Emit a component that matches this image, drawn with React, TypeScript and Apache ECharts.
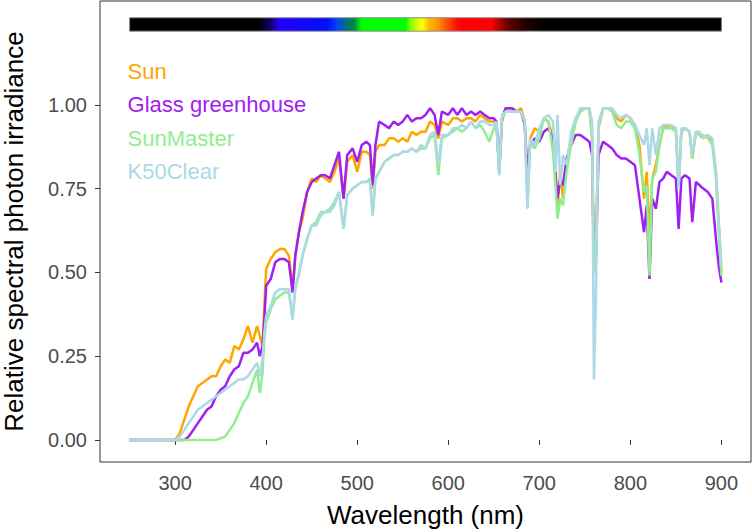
import React, { useEffect, useRef } from "react";
import * as echarts from "echarts";

const wavelengths = [
  250, 295, 300, 305, 310, 315, 320, 325, 330, 335,
  340, 345, 350, 355, 360, 365, 370, 375, 380, 385,
  390, 393, 396, 398, 400, 405, 410, 415, 420, 425,
  429, 432, 436, 440, 445, 450, 455, 460, 465, 470,
  475, 480, 485, 489, 495, 500, 505, 510, 514, 517,
  520, 524, 530, 535, 540, 545, 550, 555, 560, 565,
  570, 575, 580, 585, 589, 593, 600, 605, 610, 615,
  620, 625, 630, 635, 640, 645, 650, 653, 656, 659,
  663, 670, 675, 680, 684, 687, 690, 695, 700, 705,
  710, 715, 718, 720, 723, 726, 730, 735, 740, 745,
  750, 755, 758, 760, 762, 765, 770, 775, 780, 785,
  790, 795, 800, 805, 810, 815, 818, 821, 824, 828,
  832, 836, 840, 845, 850, 853, 856, 860, 865, 868,
  872, 876, 880, 885, 890, 894, 897, 900,
];

const sun = [
  0, 0, 0, 0.02, 0.06, 0.10, 0.13, 0.16, 0.17, 0.18,
  0.19, 0.19, 0.22, 0.24, 0.23, 0.28, 0.27, 0.30, 0.34, 0.29,
  0.34, 0.31, 0.28, 0.40, 0.51, 0.54, 0.56, 0.57, 0.57, 0.55,
  0.45, 0.55, 0.62, 0.66, 0.74, 0.78, 0.77, 0.79, 0.78, 0.77,
  0.80, 0.84, 0.72, 0.83, 0.85, 0.80, 0.86, 0.86, 0.85, 0.75,
  0.86, 0.88, 0.88, 0.90, 0.90, 0.89, 0.90, 0.89, 0.92, 0.91,
  0.92, 0.92, 0.95, 0.94, 0.90, 0.95, 0.94, 0.96, 0.96, 0.95,
  0.96, 0.96, 0.95, 0.97, 0.96, 0.95, 0.95, 0.94, 0.80, 0.95,
  0.99, 0.99, 0.98, 0.99, 0.95, 0.72, 0.90, 0.93, 0.92, 0.96,
  0.95, 0.90, 0.80, 0.70, 0.80, 0.72, 0.83, 0.90, 0.96, 0.98,
  0.99, 0.99, 0.90, 0.52, 0.55, 0.93, 0.99, 0.99, 0.98, 0.96,
  0.95, 0.97, 0.96, 0.94, 0.88, 0.72, 0.80, 0.60, 0.78, 0.82,
  0.88, 0.93, 0.94, 0.93, 0.93, 0.76, 0.92, 0.93, 0.92, 0.84,
  0.92, 0.91, 0.90, 0.91, 0.89, 0.80, 0.65, 0.50,
];

const glassGreenhouse = [
  0, 0, 0, 0, 0, 0.01, 0.03, 0.05, 0.07, 0.09,
  0.10, 0.13, 0.15, 0.16, 0.19, 0.21, 0.22, 0.26, 0.26, 0.27,
  0.29, 0.25, 0.28, 0.36, 0.46, 0.48, 0.53, 0.54, 0.54, 0.53,
  0.44, 0.55, 0.62, 0.68, 0.74, 0.77, 0.78, 0.79, 0.79, 0.78,
  0.82, 0.86, 0.72, 0.85, 0.87, 0.83, 0.88, 0.89, 0.88, 0.76,
  0.88, 0.95, 0.94, 0.93, 0.95, 0.94, 0.95, 0.97, 0.95, 0.96,
  0.96, 0.97, 0.99, 0.97, 0.91, 0.98, 0.97, 0.99, 0.97, 0.99,
  0.97, 0.98, 0.97, 0.98, 0.97, 0.96, 0.96, 0.95, 0.80, 0.96,
  0.99, 0.99, 0.98, 0.98, 0.94, 0.80, 0.88, 0.90, 0.89, 0.92,
  0.93, 0.90, 0.78, 0.72, 0.78, 0.76, 0.84, 0.88, 0.91, 0.91,
  0.90, 0.89, 0.85, 0.50, 0.52, 0.85, 0.89, 0.88, 0.87, 0.85,
  0.84, 0.84, 0.83, 0.82, 0.72, 0.62, 0.70, 0.48, 0.72, 0.69,
  0.77, 0.78, 0.80, 0.79, 0.78, 0.63, 0.78, 0.79, 0.78, 0.65,
  0.77, 0.76, 0.75, 0.74, 0.72, 0.60, 0.52, 0.47,
];

const sunMaster = [
  0, 0, 0, 0, 0, 0, 0, 0, 0, 0,
  0, 0, 0.005, 0.01, 0.03, 0.05, 0.08, 0.11, 0.13, 0.17,
  0.21, 0.14, 0.20, 0.30, 0.35, 0.39, 0.42, 0.43, 0.44, 0.44,
  0.36, 0.45, 0.50, 0.55, 0.60, 0.64, 0.65, 0.68, 0.68, 0.69,
  0.71, 0.74, 0.63, 0.73, 0.75, 0.76, 0.77, 0.77, 0.78, 0.67,
  0.78, 0.80, 0.83, 0.84, 0.85, 0.85, 0.86, 0.86, 0.87, 0.86,
  0.87, 0.87, 0.90, 0.91, 0.79, 0.90, 0.91, 0.92, 0.93, 0.92,
  0.93, 0.95, 0.93, 0.94, 0.92, 0.89, 0.93, 0.94, 0.79, 0.96,
  0.98, 0.98, 0.98, 0.98, 0.95, 0.70, 0.89, 0.87, 0.90, 0.96,
  0.95, 0.86, 0.75, 0.66, 0.72, 0.70, 0.80, 0.88, 0.95, 0.98,
  0.99, 0.99, 0.90, 0.50, 0.55, 0.93, 0.99, 0.99, 0.98, 0.94,
  0.93, 0.95, 0.95, 0.93, 0.85, 0.74, 0.76, 0.49, 0.78, 0.80,
  0.88, 0.93, 0.93, 0.93, 0.92, 0.75, 0.92, 0.93, 0.92, 0.84,
  0.92, 0.91, 0.91, 0.90, 0.88, 0.78, 0.62, 0.49,
];

const k50Clear = [
  0, 0, 0, 0.01, 0.03, 0.05, 0.07, 0.09, 0.10, 0.11,
  0.12, 0.13, 0.14, 0.15, 0.16, 0.17, 0.18, 0.18, 0.19, 0.21,
  0.23, 0.19, 0.24, 0.32, 0.37, 0.40, 0.44, 0.45, 0.45, 0.45,
  0.36, 0.46, 0.49, 0.55, 0.60, 0.64, 0.64, 0.67, 0.68, 0.68,
  0.70, 0.74, 0.63, 0.73, 0.75, 0.76, 0.77, 0.77, 0.77, 0.67,
  0.78, 0.80, 0.83, 0.84, 0.85, 0.85, 0.86, 0.86, 0.87, 0.86,
  0.88, 0.87, 0.91, 0.92, 0.82, 0.91, 0.91, 0.93, 0.93, 0.94,
  0.93, 0.95, 0.93, 0.95, 0.95, 0.94, 0.94, 0.95, 0.79, 0.97,
  0.98, 0.98, 0.98, 0.98, 0.95, 0.69, 0.90, 0.88, 0.93, 0.96,
  0.97, 0.95, 0.80, 0.97, 0.76, 0.85, 0.82, 0.92, 0.96, 0.99,
  0.99, 0.99, 0.95, 0.18, 0.40, 0.95, 0.99, 0.99, 0.99, 0.97,
  0.96, 0.97, 0.96, 0.94, 0.91, 0.88, 0.93, 0.82, 0.93, 0.85,
  0.93, 0.94, 0.94, 0.94, 0.93, 0.75, 0.93, 0.93, 0.92, 0.85,
  0.92, 0.92, 0.90, 0.91, 0.90, 0.80, 0.65, 0.52,
];

const seriesNames = ["Sun", "Glass greenhouse", "SunMaster", "K50Clear"];
const seriesColors = ["#FFA500", "#A020F0", "#90EE90", "#ADD8E6"];
const labelX = 250;
const labelY = [1.1, 1.0, 0.9, 0.8];

const xTicks = [300, 400, 500, 600, 700, 800, 900];
const yTicks = [0, 0.25, 0.5, 0.75, 1.0];

// colour bar (wavelength -> colour stops)
const barNm = [250, 392, 405, 415, 468, 477, 488, 497, 504, 553, 558, 567, 572, 577, 589, 598, 607, 612, 647, 657, 666, 684, 706, 900];
const barColors = [
  "#000000", "#000000", "#15006e", "#2200ff", "#0010ff", "#0040ff", "#00707a", "#008a40",
  "#00ff00", "#00ff00", "#80ff00", "#e0ff00", "#ffff00", "#ffc000", "#ff9000", "#ff5000",
  "#ff1a00", "#ff0000", "#ff0000", "#a00000", "#600000", "#200000", "#000000", "#000000",
];
const barBottom = 1.22;
const barTop = 1.26;

const FONT = "Liberation Sans, Arial, sans-serif";

export default function App() {
  const ref = useRef<HTMLDivElement>(null);
  useEffect(() => {
    if (!ref.current) return;
    const chart = echarts.init(ref.current, undefined, { renderer: "svg" });
    const allValues = [sun, glassGreenhouse, sunMaster, k50Clear];
    const lineSeries = allValues.map((vals, k) => ({
      type: "line",
      name: seriesNames[k],
      data: wavelengths.map((w, i) => [w, vals[i]]),
      showSymbol: false,
      symbol: "none",
      lineStyle: { width: 2.5, color: seriesColors[k] },
      itemStyle: { color: seriesColors[k] },
      z: 2 + k,
    }));
    const segData = barNm.slice(0, -1).map((nm, i) => [nm, barNm[i + 1], i]);
    const option: any = {
      animation: false,
      backgroundColor: "#ffffff",
      grid: {
        left: 100,
        right: 1,
        top: 1,
        bottom: 70,
        containLabel: false,
        outerBoundsMode: "none",
        show: true,
        borderColor: "#333333",
        borderWidth: 1,
        backgroundColor: "transparent",
      },
      xAxis: {
        type: "value",
        min: 217.5,
        max: 932.5,
        name: "Wavelength (nm)",
        nameLocation: "middle",
        nameGap: 40,
        nameTextStyle: { fontSize: 26, color: "#000000", fontFamily: FONT },
        axisLine: { show: false },
        splitLine: { show: false },
        axisTick: { show: true, customValues: xTicks, length: 5, lineStyle: { color: "#333333" } },
        axisLabel: {
          customValues: xTicks,
          fontSize: 20,
          color: "#4d4d4d",
          fontFamily: FONT,
          margin: 11,
        },
      },
      yAxis: {
        type: "value",
        min: -0.066,
        max: 1.31,
        name: "Relative spectral photon irradiance",
        nameLocation: "middle",
        nameGap: 73,
        nameRotate: 90,
        nameTextStyle: { fontSize: 26, color: "#000000", fontFamily: FONT },
        axisLine: { show: false },
        splitLine: { show: false },
        axisTick: { show: true, customValues: yTicks, length: 5, lineStyle: { color: "#333333" } },
        axisLabel: {
          customValues: yTicks,
          fontSize: 20,
          color: "#4d4d4d",
          fontFamily: FONT,
          margin: 13,
          formatter: (v: number) => v.toFixed(2),
        },
      },
      series: [
        ...lineSeries,
        {
          type: "custom",
          name: "bar",
          data: segData,
          z: 10,
          renderItem: (params: any, api: any) => {
            const a = api.value(0);
            const b = api.value(1);
            const idx = api.value(2);
            const p0 = api.coord([a, barTop]);
            const p1 = api.coord([b, barBottom]);
            return {
              type: "rect",
              shape: { x: p0[0], y: p0[1], width: p1[0] - p0[0] + 0.6, height: p1[1] - p0[1] },
              style: {
                fill: new echarts.graphic.LinearGradient(0, 0, 1, 0, [
                  { offset: 0, color: barColors[idx] },
                  { offset: 1, color: barColors[idx + 1] },
                ]),
              },
            };
          },
        },
        {
          type: "custom",
          name: "barOutline",
          data: [[barNm[0], barNm[barNm.length - 1]]],
          z: 11,
          renderItem: (params: any, api: any) => {
            const p0 = api.coord([api.value(0), barTop]);
            const p1 = api.coord([api.value(1), barBottom]);
            return {
              type: "rect",
              shape: { x: p0[0], y: p0[1], width: p1[0] - p0[0], height: p1[1] - p0[1] },
              style: { fill: "none", stroke: "#8c8c8c", lineWidth: 1 },
            };
          },
        },
        {
          type: "custom",
          name: "labels",
          data: labelY.map((y, i) => [labelX, y, i]),
          z: 12,
          renderItem: (params: any, api: any) => {
            const i = api.value(2);
            const p = api.coord([api.value(0), api.value(1)]);
            return {
              type: "text",
              x: p[0] - 2,
              y: p[1],
              style: {
                text: seriesNames[i],
                fill: seriesColors[i],
                fontSize: 22,
                fontFamily: FONT,
                align: "left",
                verticalAlign: "middle",
              },
            };
          },
        },
      ],
    };
    chart.setOption(option);
    return () => chart.dispose();
  }, []);
  return <div ref={ref} style={{ width: 752, height: 532, position: "absolute", left: 0, top: 0 }} />;
}
